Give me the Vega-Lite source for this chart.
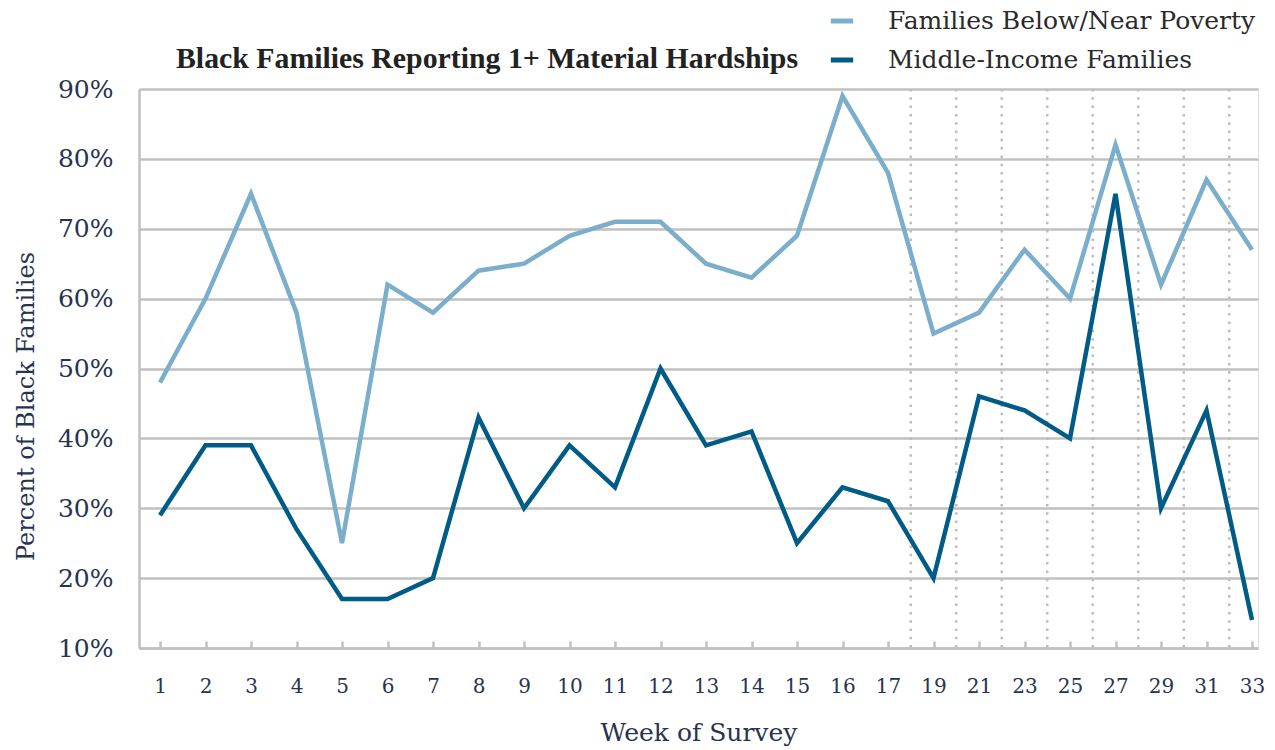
{
  "$schema": "https://vega.github.io/schema/vega-lite/v6.json",
  "width": 1119,
  "height": 559,
  "autosize": {"type": "none"},
  "padding": {"left": 139, "top": 89, "right": 17, "bottom": 102},
  "background": "white",
  "title": {
    "text": "Black Families Reporting 1+ Material Hardships",
    "anchor": "start",
    "dx": 162,
    "dy": 79,
    "offset": 12,
    "fontSize": 29.8,
    "font": "Liberation Serif",
    "fontWeight": "bold",
    "color": "#222222"
  },
  "datasets": {
    "lines": [
      {"week": 1, "group": "Families Below/Near Poverty", "pct": 48},
      {"week": 2, "group": "Families Below/Near Poverty", "pct": 60},
      {"week": 3, "group": "Families Below/Near Poverty", "pct": 75},
      {"week": 4, "group": "Families Below/Near Poverty", "pct": 58},
      {"week": 5, "group": "Families Below/Near Poverty", "pct": 25},
      {"week": 6, "group": "Families Below/Near Poverty", "pct": 62},
      {"week": 7, "group": "Families Below/Near Poverty", "pct": 58},
      {"week": 8, "group": "Families Below/Near Poverty", "pct": 64},
      {"week": 9, "group": "Families Below/Near Poverty", "pct": 65},
      {"week": 10, "group": "Families Below/Near Poverty", "pct": 69},
      {"week": 11, "group": "Families Below/Near Poverty", "pct": 71},
      {"week": 12, "group": "Families Below/Near Poverty", "pct": 71},
      {"week": 13, "group": "Families Below/Near Poverty", "pct": 65},
      {"week": 14, "group": "Families Below/Near Poverty", "pct": 63},
      {"week": 15, "group": "Families Below/Near Poverty", "pct": 69},
      {"week": 16, "group": "Families Below/Near Poverty", "pct": 89},
      {"week": 17, "group": "Families Below/Near Poverty", "pct": 78},
      {"week": 19, "group": "Families Below/Near Poverty", "pct": 55},
      {"week": 21, "group": "Families Below/Near Poverty", "pct": 58},
      {"week": 23, "group": "Families Below/Near Poverty", "pct": 67},
      {"week": 25, "group": "Families Below/Near Poverty", "pct": 60},
      {"week": 27, "group": "Families Below/Near Poverty", "pct": 82},
      {"week": 29, "group": "Families Below/Near Poverty", "pct": 62},
      {"week": 31, "group": "Families Below/Near Poverty", "pct": 77},
      {"week": 33, "group": "Families Below/Near Poverty", "pct": 67},
      {"week": 1, "group": "Middle-Income Families", "pct": 29},
      {"week": 2, "group": "Middle-Income Families", "pct": 39},
      {"week": 3, "group": "Middle-Income Families", "pct": 39},
      {"week": 4, "group": "Middle-Income Families", "pct": 27},
      {"week": 5, "group": "Middle-Income Families", "pct": 17},
      {"week": 6, "group": "Middle-Income Families", "pct": 17},
      {"week": 7, "group": "Middle-Income Families", "pct": 20},
      {"week": 8, "group": "Middle-Income Families", "pct": 43},
      {"week": 9, "group": "Middle-Income Families", "pct": 30},
      {"week": 10, "group": "Middle-Income Families", "pct": 39},
      {"week": 11, "group": "Middle-Income Families", "pct": 33},
      {"week": 12, "group": "Middle-Income Families", "pct": 50},
      {"week": 13, "group": "Middle-Income Families", "pct": 39},
      {"week": 14, "group": "Middle-Income Families", "pct": 41},
      {"week": 15, "group": "Middle-Income Families", "pct": 25},
      {"week": 16, "group": "Middle-Income Families", "pct": 33},
      {"week": 17, "group": "Middle-Income Families", "pct": 31},
      {"week": 19, "group": "Middle-Income Families", "pct": 20},
      {"week": 21, "group": "Middle-Income Families", "pct": 46},
      {"week": 23, "group": "Middle-Income Families", "pct": 44},
      {"week": 25, "group": "Middle-Income Families", "pct": 40},
      {"week": 27, "group": "Middle-Income Families", "pct": 75},
      {"week": 29, "group": "Middle-Income Families", "pct": 30},
      {"week": 31, "group": "Middle-Income Families", "pct": 44},
      {"week": 33, "group": "Middle-Income Families", "pct": 14}
    ],
    "gaps": [
      {"week": 19}, {"week": 21}, {"week": 23}, {"week": 25},
      {"week": 27}, {"week": 29}, {"week": 31}, {"week": 33}
    ]
  },
  "encoding": {
    "x": {
      "field": "week",
      "type": "ordinal",
      "scale": {
        "type": "point",
        "domain": [1,2,3,4,5,6,7,8,9,10,11,12,13,14,15,16,17,19,21,23,25,27,29,31,33],
        "padding": 0.2967,
        "align": 0.778
      },
      "axis": {
        "title": "Week of Survey",
        "labelAngle": 0,
        "labelFont": "DejaVu Serif",
        "labelFontSize": 20,
        "labelColor": "#283352",
        "labelPadding": 35,
        "tickSize": -7,
        "tickColor": "#c0c0c0",
        "tickWidth": 2.5,
        "domainColor": "#c0c0c0",
        "domainWidth": 2.5,
        "grid": false,
        "titleFont": "DejaVu Serif",
        "titleFontSize": 25,
        "titleFontWeight": "normal",
        "titleColor": "#283352",
        "titlePadding": 24
      }
    }
  },
  "layer": [
    {
      "data": {"name": "gaps"},
      "mark": {
        "type": "rule",
        "color": "#bdbdbd",
        "strokeWidth": 2.5,
        "strokeDash": [2.5, 5.8],
        "xOffset": -22.75
      }
    },
    {
      "data": {"name": "lines"},
      "mark": {"type": "line", "strokeWidth": 4.5, "strokeJoin": "miter", "strokeCap": "butt"},
      "encoding": {
        "y": {
          "field": "pct",
          "type": "quantitative",
          "scale": {"domain": [10, 90], "nice": false, "zero": false},
          "axis": {
            "values": [10, 20, 30, 40, 50, 60, 70, 80, 90],
            "labelExpr": "datum.value + '%'",
            "ticks": false,
            "labelFont": "DejaVu Serif",
            "labelFontSize": 25,
            "labelColor": "#283352",
            "labelPadding": 26,
            "domainColor": "#c0c0c0",
            "domainWidth": 2.5,
            "gridColor": "#c0c0c0",
            "gridWidth": 2.5,
            "title": "Percent of Black Families",
            "titleFont": "DejaVu Serif",
            "titleFontSize": 24,
            "titleFontWeight": "normal",
            "titleColor": "#283352",
            "titleAngle": -90,
            "titleX": -113,
            "titleY": 317,
            "titleAlign": "center",
            "titleBaseline": "middle"
          }
        },
        "color": {
          "field": "group",
          "type": "nominal",
          "scale": {
            "domain": ["Families Below/Near Poverty", "Middle-Income Families"],
            "range": ["#7aaecb", "#005b87"]
          },
          "legend": {
            "title": null,
            "orient": "none",
            "legendX": 689,
            "legendY": -82,
            "labelFont": "DejaVu Serif",
            "labelFontSize": 25,
            "labelColor": "#2a2a2a",
            "symbolType": "stroke",
            "symbolStrokeWidth": 5,
            "symbolSize": 500,
            "labelOffset": 32,
            "rowPadding": 12,
            "labelLimit": 500
          }
        }
      }
    }
  ]
}
